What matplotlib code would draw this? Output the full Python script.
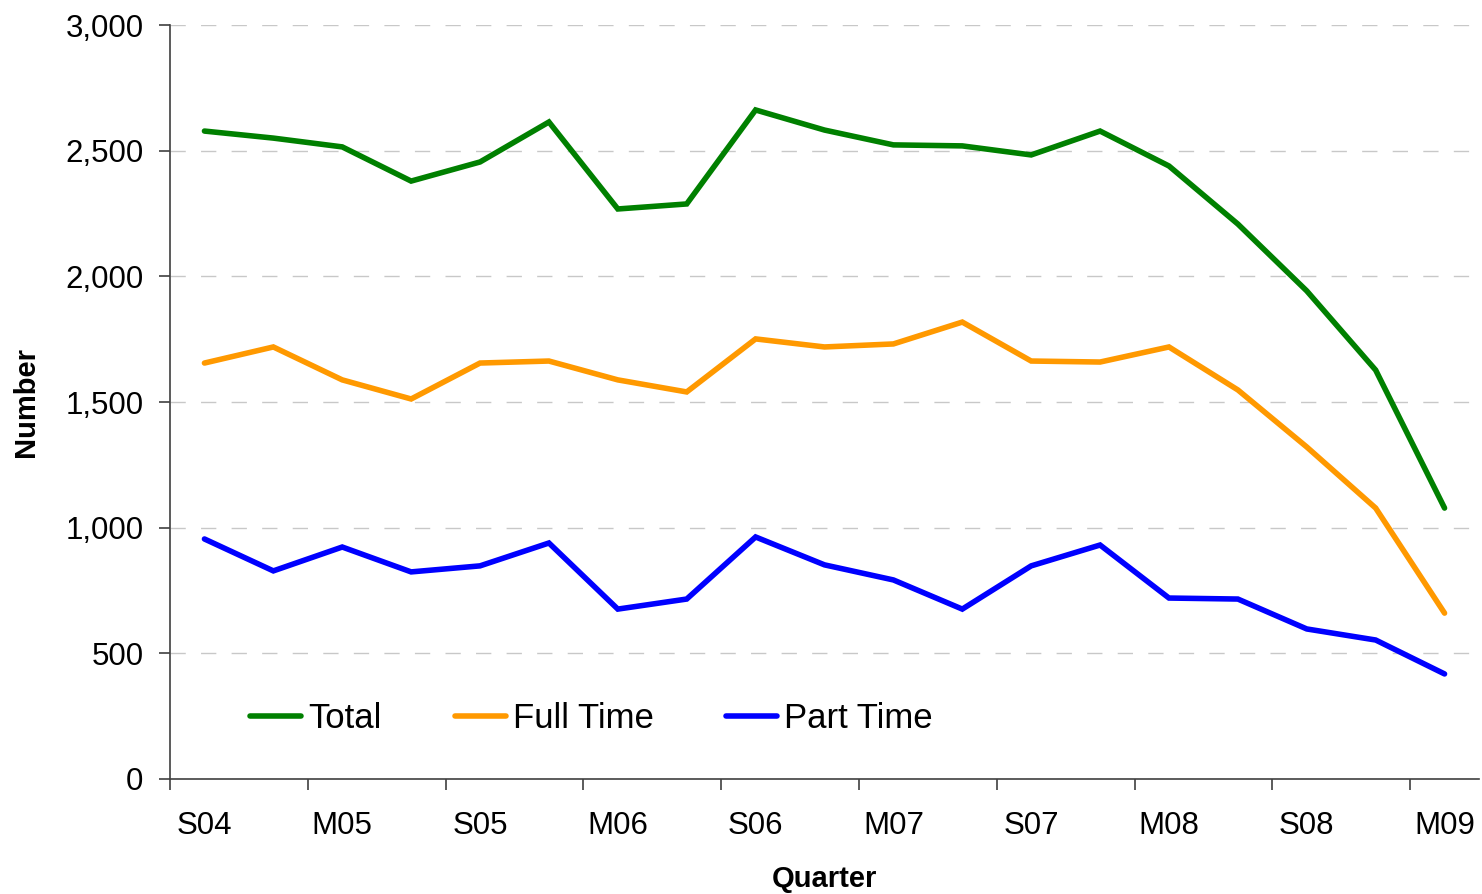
import matplotlib
matplotlib.use("Agg")
import matplotlib.pyplot as plt
from matplotlib.ticker import FuncFormatter, FixedLocator

plt.rcParams['font.family'] = ['Liberation Sans', 'DejaVu Sans']

quarters = ["S04", "D04", "M05", "J05", "S05", "D05", "M06", "J06", "S06", "D06",
            "M07", "J07", "S07", "D07", "M08", "J08", "S08", "D08", "M09"]
total = [2578, 2550, 2515, 2379, 2455, 2614, 2268, 2288, 2662, 2582,
         2523, 2519, 2483, 2578, 2439, 2208, 1942, 1627, 1078]
full_time = [1655, 1719, 1588, 1512, 1655, 1663, 1588, 1540, 1751, 1719,
             1731, 1818, 1663, 1659, 1719, 1548, 1321, 1078, 660]
part_time = [955, 828, 923, 824, 848, 939, 676, 716, 963, 852,
             792, 676, 848, 931, 720, 716, 597, 553, 418]

fig = plt.figure(figsize=(14.82, 8.94), dpi=100)
ax = fig.add_axes([170/1482, 1-779/894, (1479-170)/1482, (779-25)/894])

x = list(range(len(quarters)))
lw = 4.0
ax.plot(x, total, color="#008000", lw=lw, label="Total", solid_capstyle="round", solid_joinstyle="miter")
ax.plot(x, full_time, color="#FF9900", lw=lw, label="Full Time", solid_capstyle="round", solid_joinstyle="miter")
ax.plot(x, part_time, color="#0000FF", lw=lw, label="Part Time", solid_capstyle="round", solid_joinstyle="miter")

ax.set_xlim(-0.5, len(quarters) - 0.5)
ax.set_ylim(0, 3000)
ax.set_yticks(range(0, 3001, 500))
ax.yaxis.set_major_formatter(FuncFormatter(lambda v, p: f"{int(v):,}"))
ax.yaxis.grid(True, color="#C8C8C8", linestyle=(0, (11, 11)), linewidth=1.0)
ax.set_axisbelow(True)

# major ticks at category boundaries every 2, labels on minor ticks at centers
ax.xaxis.set_major_locator(FixedLocator([i - 0.5 for i in range(0, len(quarters), 2)]))
ax.xaxis.set_major_formatter(FuncFormatter(lambda v, p: ""))
ax.xaxis.set_minor_locator(FixedLocator(list(range(0, len(quarters), 2))))
ax.set_xticklabels([quarters[i] for i in range(0, len(quarters), 2)], minor=True)
ax.tick_params(axis="x", which="major", length=8, width=1.2, color="#404040", direction="out")
ax.tick_params(axis="x", which="minor", length=0, pad=23, labelsize=22.5)
ax.tick_params(axis="y", which="major", length=8, width=1.2, color="#404040", direction="out",
               pad=11, labelsize=22.5)

for s in ["top", "right"]:
    ax.spines[s].set_visible(False)
for s in ["left", "bottom"]:
    ax.spines[s].set_color("#404040")
    ax.spines[s].set_linewidth(1.2)

ax.set_xlabel("Quarter", fontsize=21, fontweight="bold", labelpad=17)
ax.set_ylabel("Number", fontsize=21, fontweight="bold", labelpad=18)

ax.legend(loc="center left", bbox_to_anchor=(0.0375, 0.0796), ncol=3, frameon=False, fontsize=25,
          handlelength=1.47, handletextpad=0.2, columnspacing=2.1, borderpad=0.4)

fig.savefig("out.png", dpi=100)
